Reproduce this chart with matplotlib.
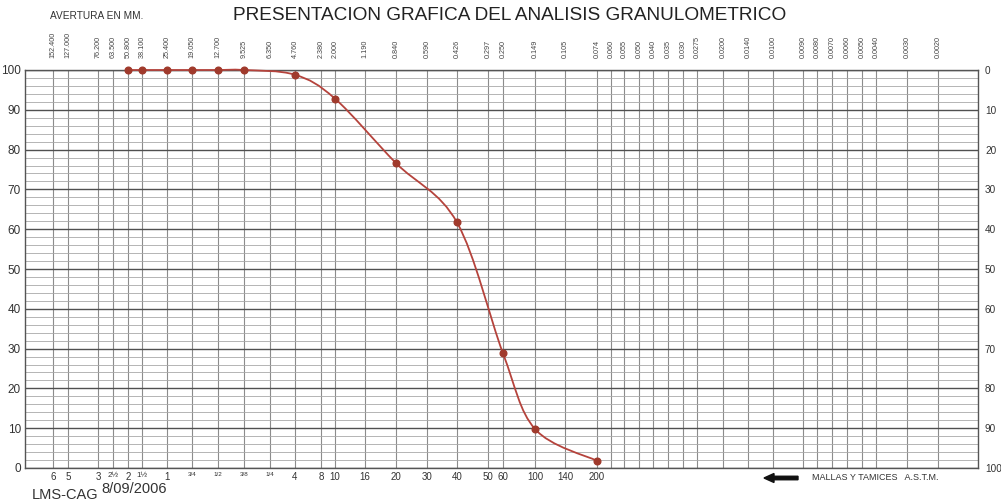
"""
Curva granulométrica sobre papel de abertura de tamices (formato LMS-CAG)
"""

import numpy as np
import matplotlib
matplotlib.use("Agg")
import matplotlib.pyplot as plt
from matplotlib.path import Path
from matplotlib.patches import PathPatch, FancyArrow
import matplotlib.transforms as mtransforms

plt.rcParams['font.family'] = ['Liberation Sans', 'DejaVu Sans']

# ============================================================
# DATOS
# ============================================================
# Aberturas impresas en la cabecera del papel (mm)
ABERTURAS = [152.400, 127.000, 76.200, 63.500, 50.800, 38.100, 25.400, 19.050,
             12.700, 9.525, 6.350, 4.760, 2.380, 2.000, 1.190, 0.840, 0.590,
             0.426, 0.297, 0.250, 0.149, 0.105, 0.074, 0.060, 0.055, 0.050,
             0.040, 0.035, 0.030, 0.0275, 0.0200, 0.0140, 0.0100, 0.0090,
             0.0080, 0.0070, 0.0060, 0.0050, 0.0040, 0.0030, 0.0020]
ABERTURAS_TXT = ["152.400", "127.000", "76.200", "63.500", "50.800", "38.100",
                 "25.400", "19.050", "12.700", "9.525", "6.350", "4.760",
                 "2.380", "2.000", "1.190", "0.840", "0.590", "0.426", "0.297",
                 "0.250", "0.149", "0.105", "0.074", "0.060", "0.055", "0.050",
                 "0.040", "0.035", "0.030", "0.0275", "0.0200", "0.0140",
                 "0.0100", "0.0090", "0.0080", "0.0070", "0.0060", "0.0050",
                 "0.0040", "0.0030", "0.0020"]

# Mallas y tamices ASTM (abertura en mm y designación)
TAMICES_MM = [152.4, 127.0, 76.2, 63.5, 50.8, 38.1, 25.4, 19.05, 12.7, 9.525,
              6.35, 4.76, 2.38, 2.0, 1.19, 0.84, 0.59, 0.426, 0.297, 0.25,
              0.149, 0.105, 0.074]
TAMICES_TXT = ["6", "5", "3", "2½", "2", "1½", "1", "3/4", "1/2", "3/8", "1/4",
               "4", "8", "10", "16", "20", "30", "40", "50", "60", "100", "140",
               "200"]
FRACCIONES = {"3/4", "1/2", "3/8", "1/4"}
MEDIOS = {"2½", "1½"}

# Resultado del ensayo: % que pasa
MUESTRA_MM = [50.8, 38.1, 25.4, 19.05, 12.7, 9.525, 4.76, 2.0, 0.84, 0.426,
              0.25, 0.149, 0.074]
PASA_PCT = [100, 100, 100, 100, 100, 100, 98.8, 92.8, 76.6, 61.7, 28.8, 9.8, 1.8]

# ============================================================
# ESCALA DEL PAPEL (columnas no uniformes, como el formato impreso)
# ============================================================
# Columna de cada línea vertical, contada desde el borde izquierdo
PAPEL_MM = [200.0] + ABERTURAS + [0.0012]
PAPEL_COL = [0, 28, 43, 73, 88, 103, 117, 142, 167, 193, 219, 245, 270, 296,
             310, 340, 371, 402, 432, 463, 478, 510, 540, 572, 586, 599, 614,
             628, 643, 658, 672, 698, 723, 748, 778, 792, 807, 822, 837, 851,
             882, 913, 953]
# interp necesita abscisas crecientes: se trabaja con log10(mm) ascendente
_LOG = np.log10(PAPEL_MM)[::-1]
_COL = (PAPEL_COL[-1] - np.array(PAPEL_COL, dtype=float))[::-1]


def a_papel(mm):
    mm = np.clip(np.asarray(mm, dtype=float), 1e-9, None)
    return np.interp(np.log10(mm), _LOG, _COL)


def desde_papel(col):
    return 10 ** np.interp(np.asarray(col, dtype=float), _COL, _LOG)


def curva_suave(xs, ys):
    """Trazo suavizado tipo hoja de cálculo (Catmull-Rom -> Bezier)"""
    p = np.column_stack([xs, ys])
    p = np.vstack([p[0], p, p[-1]])
    verts = [p[1]]
    codes = [Path.MOVETO]
    for i in range(1, len(p) - 2):
        c1 = p[i] + (p[i + 1] - p[i - 1]) / 6
        c2 = p[i + 1] - (p[i + 2] - p[i]) / 6
        verts += [c1, c2, p[i + 1]]
        codes += [Path.CURVE4] * 3
    return Path(verts, codes)


# ============================================================
# FIGURA
# ============================================================
W, H = 1001, 501
fig = plt.figure(figsize=(W / 100, H / 100), dpi=100)
fig.patch.set_facecolor('white')

left, right, top, bottom = 25, 978, 70, 468
ax = fig.add_axes([left / W, 1 - bottom / H, (right - left) / W, (bottom - top) / H])
ax.set_xscale('function', functions=(a_papel, desde_papel))
ax.set_xlim(PAPEL_MM[0], PAPEL_MM[-1])
ax.set_ylim(0, 100)

# Cuadrícula
ax.set_xticks(TAMICES_MM)
ax.set_xticklabels(TAMICES_TXT)
ax.set_xticks([a for a in ABERTURAS if a not in TAMICES_MM], minor=True)
ax.set_yticks(np.arange(0, 101, 10))
ax.set_yticks(np.arange(0, 101, 2), minor=True)
ax.grid(True, axis='x', which='both', color='#8c8c8c', linewidth=0.8)
ax.grid(True, axis='y', which='minor', color='#a8a8a8', linewidth=0.6)
ax.grid(True, axis='y', which='major', color='#505050', linewidth=1.0)
ax.set_axisbelow(True)
for s in ax.spines.values():
    s.set_color('#555555')
    s.set_linewidth(1.0)

ax.tick_params(axis='both', which='both', length=0)
ax.tick_params(axis='x', pad=3, labelsize=7, labelcolor='#333333')
ax.tick_params(axis='y', pad=3, labelsize=8.5, labelcolor='#333333')
for t in ax.get_xticklabels():
    if t.get_text() in FRACCIONES:
        t.set_fontsize(4.5)
    elif t.get_text() in MEDIOS:
        t.set_fontsize(5.8)

# Eje derecho: % retenido
ax_r = ax.secondary_yaxis('right', functions=(lambda y: 100 - y, lambda y: 100 - y))
ax_r.set_yticks(np.arange(0, 101, 10))
ax_r.tick_params(length=0, pad=5, labelsize=7.2, labelcolor='#333333')
ax_r.spines['right'].set_visible(False)

# Aberturas en la parte superior
trans_top = mtransforms.blended_transform_factory(ax.transData, ax.transAxes)
for mm, txt in zip(ABERTURAS, ABERTURAS_TXT):
    ax.text(mm, 1.03, txt, transform=trans_top, rotation=90, ha='center',
            va='bottom', fontsize=5.2, color='#444444', clip_on=False)

# Curva granulométrica
x_col = a_papel(MUESTRA_MM)
curva = PathPatch(curva_suave(x_col, PASA_PCT), facecolor='none',
                  edgecolor='#b5433c', linewidth=1.3,
                  transform=ax.transLimits + ax.transAxes, clip_on=False, zorder=4)
ax.add_patch(curva)
ax.plot(MUESTRA_MM, PASA_PCT, 'o', color='#a03a2c', markersize=4.8,
        clip_on=False, zorder=5)

# ============================================================
# TEXTOS
# ============================================================
fig.text(510 / W, 1 - 15 / H, "PRESENTACION GRAFICA DEL ANALISIS GRANULOMETRICO",
         ha='center', va='center', fontsize=13.7, color='#222222')
fig.text(50 / W, 1 - 16 / H, "AVERTURA EN MM.", ha='left', va='center',
         fontsize=7.3, color='#333333')
fig.text(32 / W, 1 - 495 / H, "LMS-CAG", ha='left', va='center',
         fontsize=10.5, color='#333333')
fig.text(101 / W, 1 - 489 / H, "8/09/2006", ha='left', va='center',
         fontsize=10.5, color='#333333')
fig.text(812 / W, 1 - 478 / H, "MALLAS Y TAMICES   A.S.T.M.", ha='left',
         va='center', fontsize=6.5, color='#333333')
fig.patches.append(FancyArrow(
    798 / W, 1 - 478 / H, -34 / W, 0, width=3.5 / H, head_width=9 / H,
    head_length=10 / W, length_includes_head=True, color='#111111',
    transform=fig.transFigure, figure=fig))

fig.savefig("out.png", dpi=100)
